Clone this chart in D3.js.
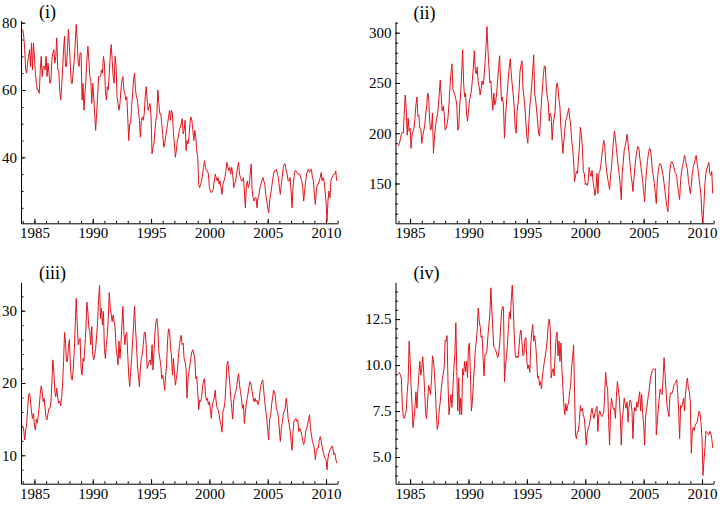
<!DOCTYPE html>
<html>
<head>
<meta charset="utf-8">
<script src="https://cdn.jsdelivr.net/npm/d3@7"></script>
<style>
  body { margin: 0; background: #fff; }
</style>
</head>
<body>
<svg id="chart" width="722" height="506"></svg>
<script>
// monthly values, Jan 1984 .. Dec 2010
const startYear = 1984;
const xMajorTicks = [1985, 1990, 1995, 2000, 2005, 2010];
const panelLabels = ["(i)", "(ii)", "(iii)", "(iv)"];

const seriesI = [
  78, 76, 72, 66, 65, 68, 70, 72, 67, 74, 66, 74,
  70, 65, 62, 60, 60, 59, 66, 70, 64, 67, 67, 66,
  70, 64, 68, 65, 62, 63, 69, 71, 72, 68, 70, 75.5,
  66, 66, 60, 57, 61, 66, 72, 76, 67, 67, 72, 78,
  73, 67, 62, 62, 66, 69, 74, 79.5, 75, 68, 67, 71,
  71, 57, 62, 54, 59, 63, 69, 73, 69, 64, 63, 56,
  62, 58, 53, 48, 53, 58, 64, 64, 64, 66, 65, 70,
  68, 60, 57, 61, 60, 65, 70, 73.5, 69, 64, 62, 70,
  67, 58, 56, 54, 56, 60, 63, 64, 60, 59, 57, 58,
  52, 45, 50, 50, 55, 59, 63, 65, 60, 58, 57, 54,
  51, 46, 51, 52, 51, 53, 58, 61, 57, 54, 55, 56,
  52, 41, 43, 44, 48, 51, 53, 60, 56, 53, 53, 50,
  47, 43, 44, 46, 48, 50, 52, 54, 51, 54, 53, 47,
  44, 40, 42, 45, 46, 48, 49, 50, 51.5, 47, 48, 51,
  42, 45, 44, 46, 50, 52, 51, 48, 45, 48, 46, 42,
  40, 32, 31, 32, 33, 35, 37, 39, 37, 36, 36, 35,
  31, 30, 29.5, 30, 30.5, 33, 35, 34, 33, 34, 32, 33,
  31, 29, 32, 33, 34, 36, 38.5, 37, 36, 37, 35, 37,
  35, 31, 32, 33, 35, 37, 38.5, 35, 34, 33, 33, 34,
  30, 25, 31, 33, 31, 32, 35, 38, 30, 28, 27, 28,
  28, 25, 28, 29, 31, 32, 33, 34, 33, 32, 29, 27,
  25, 23.5, 27, 29, 31, 33, 35, 36, 36, 36.5, 35, 34,
  31, 29, 32, 34, 37, 38, 38, 36, 35, 33, 33, 34,
  30, 25, 31, 34, 36, 36, 35.5, 35, 35, 35, 34, 33,
  31, 27, 30, 33, 35, 36, 36.5, 35.5, 36, 36.5, 34, 33,
  29, 26, 30, 32, 32, 33, 34, 35.5, 33, 34, 33, 30,
  27, 21, 27, 30, 28, 33, 34, 34.5, 35, 35, 36, 33
];

const seriesII = [
  187, 190, 194, 199, 201, 200, 220, 238, 225, 198, 215, 202,
  205, 185, 198, 202, 205, 215, 228, 236, 217, 218, 205, 205,
  190, 197, 202, 208, 218, 226, 240, 237, 215, 203, 205, 220,
  180, 195, 206, 213, 218, 226, 240, 253, 236, 222, 227, 220,
  203, 205, 209, 216, 230, 246, 260, 269, 243, 241, 238, 234,
  228, 203, 205, 228, 240, 260, 283, 250, 236, 240, 220, 212,
  222, 232, 237, 242, 253, 266, 282, 262, 259, 266, 250, 246,
  238, 245, 252, 248, 256, 270, 286, 306, 283, 266, 250, 252,
  236, 223, 240, 228, 232, 240, 253, 265, 277, 250, 232, 236,
  226, 195, 215, 230, 242, 256, 266, 274, 258, 248, 238, 226,
  205, 200, 223, 230, 243, 262, 268, 272, 245, 236, 226, 210,
  197, 190, 210, 226, 236, 248, 262, 278, 240, 233, 223, 212,
  200, 197, 215, 232, 245, 258, 267, 266, 245, 236, 230, 212,
  220, 216, 193, 208, 215, 222, 243, 250, 245, 233, 226, 205,
  195, 180, 192, 203, 213, 216, 220, 225, 216, 208, 194, 185,
  174, 152, 158, 162, 160, 174, 186, 206, 198, 187, 163, 160,
  149, 150, 148, 152, 166, 160, 157, 163, 152, 146, 138, 145,
  160, 140, 160, 162, 168, 177, 186, 193, 187, 172, 162, 155,
  150, 144, 158, 166, 180, 192, 202, 195, 185, 175, 166, 158,
  148, 134, 160, 170, 183, 187, 192, 199, 190, 180, 170, 158,
  152, 142, 155, 166, 175, 182, 187, 186, 176, 168, 161, 152,
  142, 132, 150, 163, 173, 180, 185, 184, 175, 163, 157, 150,
  140, 130, 152, 162, 168, 170, 168, 163, 158, 150, 142, 133,
  126, 122, 147, 164, 170, 172, 170, 167, 162, 160, 157, 147,
  140, 134, 153, 162, 168, 172, 178, 174, 168, 164, 153, 147,
  140, 148, 160, 166, 170, 174, 178, 170, 163, 155, 146, 137,
  118, 111, 130, 150, 160, 165, 168, 171, 160, 158, 162, 140
];

const seriesIII = [
  14, 13.5, 12.1, 13.5, 14.2, 16.5, 18.3, 18.6, 17.5, 16, 15.1, 15.8,
  14.2, 13.5, 15, 14.5, 15.5, 16.8, 18.5, 19.6, 18.8, 17.4, 17.9, 16.5,
  15.1, 14.9, 15.8, 16.5, 16.5, 17.4, 20.2, 23.2, 21.6, 18.8, 18.1, 19.3,
  18, 17.2, 17.5, 16.8, 18, 20, 23, 27, 25.5, 23, 23, 25,
  26, 22.5, 20.6, 20.4, 22, 24.5, 28, 31.7, 28.5, 25.3, 25.8, 26.2,
  22, 21.1, 23.4, 23, 25.3, 27.6, 31.2, 29.8, 27.6, 27.1, 25.3, 27.8,
  24, 23.2, 23.9, 24.8, 26.5, 28.5, 31.5, 33.5, 28.9, 30.3, 28, 29.9,
  24.8, 23.4, 25.3, 26.7, 29, 32.5, 30.5, 29.5, 28.5, 29.4, 28.5, 27.6,
  25, 23.9, 22.5, 25.8, 23.4, 25.3, 28, 30.6, 27.1, 25.3, 26.7, 27,
  23.9, 21.1, 19.5, 21.6, 23.4, 25.7, 28, 30.6, 27.6, 25.3, 22.5, 21.1,
  19.5, 22, 23.4, 24, 25.3, 27, 27, 25.3, 22, 22.5, 22.9, 23.2,
  22.5, 25.3, 21.8, 24.3, 27, 28.5, 28.9, 27.6, 24.3, 23.4, 22.5, 20.6,
  21.1, 20.2, 19, 21.1, 22.5, 26, 27.5, 27.3, 24.8, 23.9, 21.1, 23.4,
  21.6, 19.7, 20.6, 21.6, 23.4, 25, 26, 26.6, 25.3, 25.5, 23.4, 22.9,
  22, 17.9, 20.6, 21.6, 22.5, 23.5, 24.3, 24.6, 24, 23.4, 20.6, 20.9,
  18.8, 16.3, 17.6, 17.4, 18, 19.5, 20.3, 20.6, 18.3, 17.6, 17.9, 17,
  17.4, 16.3, 15.1, 17, 17.4, 17.9, 19, 17.4, 16.5, 16.3, 15.6, 14.7,
  14.2, 13.2, 16.1, 16.5, 17.4, 19.7, 22.5, 23, 21.5, 20, 18, 16.5,
  15, 17.5, 18.3, 18.8, 19.3, 20.5, 21.3, 19.7, 18.8, 17.9, 16.5, 17,
  14.4, 16, 17.2, 17.9, 18.8, 19.7, 20.2, 19.7, 18.8, 17.9, 17.4, 17.9,
  17.4, 17.6, 17, 17.4, 18.8, 19.7, 20.2, 20.4, 18.8, 17.4, 16.1, 15.1,
  13.5, 12.1, 15, 15.5, 17, 18, 19, 18.8, 17.9, 16.3, 16.1, 15.2,
  13.5, 11.9, 13.8, 14.5, 15.6, 16.1, 16.5, 17.9, 16.8, 15.1, 14.3, 13.5,
  12, 10.7, 13.3, 14.7, 14.9, 15.1, 14.7, 14.9, 13.3, 13.7, 13.5, 12.8,
  12, 11.5, 11.9, 13.3, 13.7, 14.2, 15, 15.6, 13.7, 12.8, 11.9, 11.5,
  11, 9.4, 10.5, 11, 11, 12, 12.6, 12, 11.2, 10.5, 10, 9.6,
  9.4, 8, 9.6, 10.3, 10.7, 11, 11.3, 11, 10.1, 10.3, 9.5, 8.9
];

const seriesIV = [
  9.55, 9.6, 9.45, 9.3, 7.8, 7.2, 7.1, 7.3, 7.5, 8.5, 9.1, 11.3,
  10.3, 8.9, 7.8, 6.6, 7.1, 7.7, 8.55, 7.65, 8.7, 9.5, 10.2, 9.45,
  9.8, 10.45, 9.6, 8.5, 7.4, 7.1, 8.0, 8.9, 8.7, 8.4, 9.2, 10.5,
  10.3, 9.6, 8.6, 7.3, 6.5, 6.8, 7.6, 8.0, 8.7, 9.2, 9.5, 9.8,
  11.35, 11.3, 11.6, 8.9, 7.3, 7.9, 8.4, 7.7, 8.8, 9.8, 10.6, 12.3,
  9.65, 7.5, 9.3, 7.3, 8.2, 7.3, 9.8, 9.45, 10.2, 9.65, 10.2, 9.3,
  11.0, 11.2, 9.5, 7.5, 8.0, 9.0, 9.9, 10.8, 11.3, 11.9, 13.1, 12.4,
  12.1, 11.5, 11.6, 10.4, 9.4, 10.6, 10.6, 10.8, 11.6, 12.2, 12.8, 14.2,
  13.0, 12.0, 11.0, 10.9, 10.8, 10.6, 10.4, 10.6, 11.1, 12.0, 12.9, 13.2,
  13.1, 9.1, 10.0, 10.4, 11.1, 12.0, 12.9, 12.5, 13.6, 14.35, 13.2, 11.7,
  10.6, 10.4, 10.5, 10.4, 11.0, 11.7, 11.9, 11.2, 10.5, 10.6, 11.4, 11.5,
  10.2, 9.8, 10.0, 9.6, 11.1, 11.8, 12.2, 11.3, 11.6, 11.1, 10.4, 9.3,
  9.4, 8.9, 9.1, 8.7, 9.45, 9.8, 10.2, 10.5, 10.9, 11.4, 12.2, 12.5,
  12.0, 9.3, 9.65, 9.8, 9.4, 10.5, 11.5, 11.8, 10.5, 11.3, 10.2, 11.2,
  9.8, 8.8, 7.8, 7.3, 7.9, 7.5, 7.8, 8.0, 8.55, 8.9, 9.9, 10.4,
  11.1, 8.5, 6.2, 6.0, 6.4, 6.4, 7.0, 7.8, 7.5, 7.65, 7.3, 7.1,
  6.5, 5.65, 6.3, 6.55, 6.7, 7.0, 7.4, 7.65, 7.3, 7.1, 7.4, 7.6,
  7.75, 6.4, 7.3, 7.5, 7.3, 7.2, 7.3, 7.4, 8.5, 9.6, 8.9, 8.7,
  7.0, 5.65, 7.5, 8.2, 7.85, 7.6, 7.65, 7.1, 8.3, 9.1, 8.7, 8.2,
  7.2, 5.65, 7.0, 7.5, 8.2, 7.9, 7.65, 8.0, 6.9, 7.7, 8.1, 8.0,
  7.5, 6.0, 7.4, 7.7, 7.5, 8.0, 7.7, 8.2, 8.55, 7.5, 8.4, 7.3,
  6.8, 5.65, 7.2, 7.6, 8.0, 8.4, 8.8, 9.3, 9.5, 9.7, 9.8, 9.75,
  9.8, 6.2, 6.9, 7.6, 8.2, 8.7, 8.5, 8.4, 9.3, 10.4, 9.5, 8.6,
  7.8, 7.5, 7.2, 8.3, 8.5, 8.45, 8.6, 8.9, 9.0, 9.1, 9.2, 8.5,
  7.5, 6.0, 7.8, 7.7, 7.9, 8.2, 7.5, 8.4, 9.0, 9.3, 8.7, 8.55,
  8.0, 5.2, 6.4, 6.6, 6.45, 6.75, 6.8, 6.9, 7.2, 7.5, 7.35, 6.8,
  6.0, 4.0, 4.8, 5.5, 6.4, 6.35, 6.3, 6.2, 6.4, 6.3, 6.0, 5.5
];

// y tick labels per panel
const yTicksI = [40, 60, 80];
const yTicksII = [150, 200, 250, 300];
const yTicksIII = [10, 20, 30];
const yTicksIV = [5.0, 7.5, 10.0, 12.5];

/* layout of the four panels */
const panels = [
  { label: panelLabels[0], data: seriesI, left: 21, right: 337.7, top: 20.7, bottom: 223.3,
    xDomain: [1983.85, 2011], yDomain: [20.4, 80.6], yTicks: yTicksI, yMinor: 5, fmt: d3.format("d") },
  { label: panelLabels[1], data: seriesII, left: 395.5, right: 713.7, top: 22, bottom: 223.3,
    xDomain: [1983.75, 2011], yDomain: [110.4, 310.6], yTicks: yTicksII, yMinor: 10, fmt: d3.format("d") },
  { label: panelLabels[2], data: seriesIII, left: 21, right: 337.7, top: 282.3, bottom: 483.7,
    xDomain: [1983.85, 2011], yDomain: [6.07, 33.93], yTicks: yTicksIII, yMinor: 2, fmt: d3.format("d") },
  { label: panelLabels[3], data: seriesIV, left: 395.5, right: 713.7, top: 282.3, bottom: 483.7,
    xDomain: [1983.75, 2011], yDomain: [3.55, 14.5], yTicks: yTicksIV, yMinor: 0.5, fmt: d3.format(".1f") }
];

const svg = d3.select("#chart");
const lineColor = "#e3141b";
const font = "'Liberation Serif', 'Times New Roman', serif";

panels.forEach(p => {
  let x = d3.scaleLinear().domain(p.xDomain).range([p.left, p.right]);
  let y = d3.scaleLinear().domain(p.yDomain).range([p.bottom, p.top]);
  let g = svg.append("g");

  // minor ticks (every year / every yMinor units), no labels
  let xMinor = d3.range(Math.ceil(p.xDomain[0]), p.xDomain[1] + 0.001, 1);
  g.append("g")
    .attr("transform", `translate(0,${p.bottom})`)
    .call(d3.axisBottom(x).tickValues(xMinor).tickSize(-2.5).tickFormat(""))
    .call(a => a.select(".domain").remove());

  let yMinor = d3.range(Math.ceil(p.yDomain[0] / p.yMinor) * p.yMinor, p.yDomain[1], p.yMinor);
  g.append("g")
    .attr("transform", `translate(${p.left},0)`)
    .call(d3.axisLeft(y).tickValues(yMinor).tickSize(-2.5).tickFormat(""))
    .call(a => a.select(".domain").remove());

  // major axes
  g.append("g")
    .attr("transform", `translate(0,${p.bottom})`)
    .call(d3.axisBottom(x)
      .tickValues(xMajorTicks)
      .tickSizeInner(-4.5)
      .tickSizeOuter(0)
      .tickPadding(4.3)
      .tickFormat(d3.format("d")))
    .attr("font-family", font)
    .attr("font-size", 15);

  g.append("g")
    .attr("transform", `translate(${p.left},0)`)
    .call(d3.axisLeft(y)
      .tickValues(p.yTicks)
      .tickSizeInner(-4.5)
      .tickSizeOuter(0)
      .tickPadding(4)
      .tickFormat(p.fmt))
    .attr("font-family", font)
    .attr("font-size", 15);

  // the series
  let line = d3.line()
    .x((d, i) => x(startYear + i / 12))
    .y(d => y(d));

  g.append("path")
    .datum(p.data)
    .attr("fill", "none")
    .attr("stroke", lineColor)
    .attr("stroke-width", 1)
    .attr("stroke-linejoin", "round")
    .attr("d", line);

  // panel label
  g.append("text")
    .attr("x", p.left + 18)
    .attr("y", p.top - 3)
    .attr("font-family", font)
    .attr("font-size", 18)
    .text(p.label);
});
</script>
</body>
</html>
